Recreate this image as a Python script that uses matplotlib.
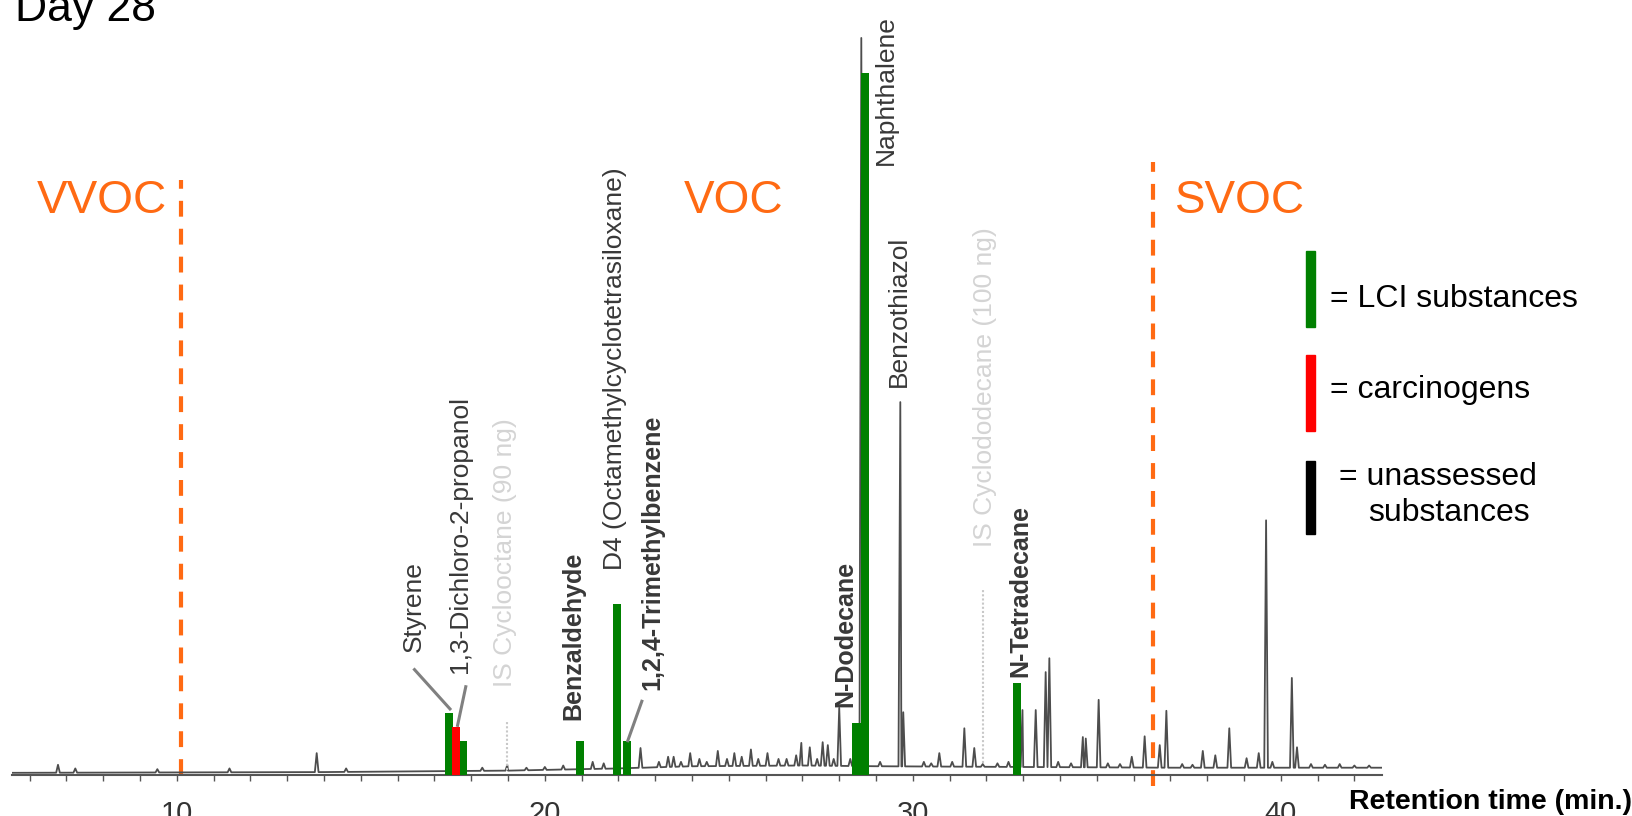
import matplotlib
matplotlib.use("Agg")
import matplotlib.pyplot as plt
import numpy as np
from matplotlib.patches import Rectangle
from matplotlib.ticker import MultipleLocator

plt.rcParams['font.family'] = ['Liberation Sans', 'DejaVu Sans']

# chromatogram peaks (retention time in min, relative abundance)
peak_times = [6.77, 7.24, 9.47, 11.43, 13.8, 14.6, 18.3, 18.98, 19.5, 20.0, 20.5,
              21.3, 21.6, 22.6, 23.1, 23.35, 23.5, 23.7, 23.95, 24.2, 24.4, 24.7,
              24.95, 25.15, 25.35, 25.6, 25.8, 26.05, 26.35, 26.57, 26.83, 26.97,
              27.2, 27.4, 27.55, 27.69, 27.85, 28.0, 28.3, 28.6, 29.11, 29.66, 29.74,
              30.3, 30.5, 30.72, 31.07, 31.4, 31.67, 31.9, 32.3, 32.6, 32.98, 33.34,
              33.61, 33.71, 33.95, 34.3, 34.62, 34.7, 35.05, 35.3, 35.63, 35.95, 36.3,
              36.71, 36.89, 37.32, 37.6, 37.88, 38.22, 38.6, 39.07, 39.4, 39.6, 39.77,
              40.3, 40.44, 40.82, 41.2, 41.6, 42.0, 42.4]
peak_heights = [1.4, 0.9, 0.8, 0.9, 3.0, 0.9, 1.0, 1.4, 1.0, 1.1, 1.3,
                1.8, 1.6, 3.7, 1.8, 2.5, 2.5, 1.8, 3.0, 2.2, 1.8, 3.3,
                2.2, 3.0, 2.5, 3.5, 2.2, 3.0, 2.2, 2.2, 2.7, 4.4,
                3.8, 2.2, 4.5, 4.1, 2.2, 9.2, 2.2, 101.0, 1.8, 51.1, 8.6,
                1.8, 1.6, 3.0, 1.8, 6.4, 3.7, 1.5, 1.6, 1.8, 8.9, 8.9,
                14.1, 16.0, 1.8, 1.6, 5.2, 5.0, 10.3, 1.6, 1.5, 2.5, 5.3,
                4.1, 8.8, 1.5, 1.4, 3.3, 2.7, 6.4, 2.3, 3.0, 34.9, 1.8,
                13.3, 3.8, 1.5, 1.4, 1.5, 1.3, 1.3]

base_times = [5.5, 14, 19, 22, 24, 27, 29, 33, 37, 42.8]
base_levels = [0.3, 0.4, 0.6, 0.9, 1.2, 1.3, 1.2, 1.1, 1.0, 1.0]

# identified substances (bars)
bar_names = ["Styrene", "1,3-Dichloro-2-propanol", "", "Benzaldehyde",
             "D4 (Octamethylcyclotetrasiloxane)", "1,2,4-Trimethylbenzene",
             "N-Dodecane", "Naphthalene", "N-Tetradecane"]
bar_times = [17.39, 17.58, 17.78, 20.95, 21.95, 22.24, 28.47, 28.70, 32.83]
bar_heights = [8.5, 6.6, 4.7, 4.7, 23.4, 4.7, 7.1, 96.2, 12.6]
bar_classes = ["LCI", "carcinogen", "LCI", "LCI", "LCI", "LCI", "LCI", "LCI", "LCI"]

other_names = ["Benzothiazol", "IS Cyclooctane (90 ng)", "IS Cyclododecane (100 ng)"]

range_names = ["VVOC", "VOC", "SVOC"]
range_limits = [10.12, 36.52]

W, H = 1633, 816
ORANGE = "#ff6a13"
GREEN = "#008000"
RED = "#ff0000"
TXT = "#383838"


def build_trace(w=0.05):
    pts = list(zip(base_times, base_levels))
    for t, h in zip(peak_times, peak_heights):
        b = np.interp(t, base_times, base_levels)
        pts += [(t - w, b), (t, h), (t + w, b)]
    pts.sort(key=lambda p: p[0])
    return [p[0] for p in pts], [p[1] for p in pts]


def main():
    fig = plt.figure(figsize=(W / 100, H / 100), dpi=100)
    ax = fig.add_axes([12 / W, 1 - 775 / H, 1370 / W, 775 / H])
    ax.set_xlim(5.52, 42.75)
    ax.set_ylim(0, 106.2)

    for s in ["left", "right", "top"]:
        ax.spines[s].set_visible(False)
    ax.spines["bottom"].set_color("#555555")
    ax.spines["bottom"].set_linewidth(1.5)
    ax.set_yticks([])
    ax.xaxis.set_major_locator(MultipleLocator(10))
    ax.xaxis.set_minor_locator(MultipleLocator(1))
    ax.tick_params(axis="x", which="both", direction="out", length=4, width=1, color="#555555")
    ax.tick_params(axis="x", which="major", labelsize=21, labelcolor="#333333", pad=14)

    xs, ys = build_trace()
    ax.plot(xs, ys, color="#4d4d4d", lw=1.3, zorder=2)

    colors = {"LCI": GREEN, "carcinogen": RED}
    for t, h, c in zip(bar_times, bar_heights, bar_classes):
        ax.bar(t, h, width=0.22, color=colors[c], zorder=4 if c == "carcinogen" else 3)

    # VVOC / VOC / SVOC borders
    ax.plot([range_limits[0]] * 2, [0, 81.6], color=ORANGE, lw=3, dashes=(3.8, 2.9), zorder=1)
    ax.plot([range_limits[1]] * 2, [-1.5, 84.0], color=ORANGE, lw=3, dashes=(3.8, 2.9),
            zorder=1, clip_on=False)
    for name, x in zip(range_names, [7.97, 25.12, 38.9]):
        ax.text(x, 78.6, name, color=ORANGE, fontsize=33, ha="center", va="center")

    # substance labels: (name, x, y-bottom, size, bold)
    layout = [
        (bar_names[0], 16.45, 16.8, 19, False),
        (bar_names[1], 17.70, 14.0, 19, False),
        (bar_names[3], 20.77, 7.5, 18, True),
        (bar_names[4], 21.91, 28.1, 19, False),
        (bar_names[5], 22.92, 11.6, 18, True),
        (bar_names[6], 28.16, 9.3, 18, True),
        (bar_names[7], 29.28, 83.6, 19, False),
        (other_names[0], 29.61, 53.2, 19, False),
        (bar_names[8], 32.92, 13.4, 18, True),
    ]
    for name, x, y, fs, bold in layout:
        ax.text(x, y, name, rotation=90, ha="center", va="bottom", fontsize=fs,
                fontweight="bold" if bold else "normal", color=TXT)

    # internal standards (faint)
    for name, x, y, t0, y0, y1 in [(other_names[1], 18.92, 12.1, 18.98, 0.7, 7.3),
                                   (other_names[2], 31.97, 31.2, 31.9, 1.6, 25.3)]:
        ax.text(x, y, name, rotation=90, ha="center", va="bottom", fontsize=19, color="#d4d4d4")
        ax.plot([t0, t0], [y0, y1], color="#c8c8c8", lw=1.5, ls=(0, (1, 1)))

    # leader lines
    for (x0, y0), (x1, y1) in [((16.43, 14.6), (17.45, 8.9)),
                               ((17.86, 12.3), (17.62, 6.6)),
                               ((22.65, 10.3), (22.24, 4.5))]:
        ax.plot([x0, x1], [y0, y1], color="#808080", lw=2.2, solid_capstyle="butt", zorder=5)

    # legend
    for color, top, bot in [(GREEN, 251, 327), (RED, 355, 431), ("black", 461, 534)]:
        fig.add_artist(Rectangle((1306 / W, 1 - bot / H), 9 / W, (bot - top) / H,
                                 transform=fig.transFigure, color=color))
    fig.text(1330 / W, 1 - 299 / H, "= LCI substances", fontsize=23, va="center")
    fig.text(1330 / W, 1 - 390 / H, "= carcinogens", fontsize=23, va="center")
    fig.text(1339 / W, 1 - 477 / H, "= unassessed", fontsize=23, va="center")
    fig.text(1368 / W, 1 - 513 / H, "substances", fontsize=23, va="center")

    fig.text(15 / W, 1 - 21 / H, "Day 28", fontsize=32, va="baseline")
    fig.text(1349 / W, 1 - 802 / H, "Retention time (min.)", fontsize=20.5,
             fontweight="bold", va="center")

    fig.savefig("out.png", dpi=100)


if __name__ == "__main__":
    main()
